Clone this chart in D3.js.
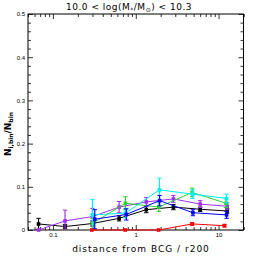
<!DOCTYPE html>
<html>
<head>
<meta charset="utf-8">
<script src="https://cdn.jsdelivr.net/npm/d3@7"></script>
<style>
body{margin:0;background:#fff;}
svg{display:block;}
.tick text{font-family:"Liberation Sans",Arial,sans-serif;font-size:6px;fill:#000;}
</style>
</head>
<body>
<div id="plot"></div>
<script>
// radial bins, values
const blackX=[0.067,0.14,0.30,0.63,1.34,2.85,6.0,12.7];
const blackY=[0.014,0.008,0.015,0.027,0.047,0.053,0.048,0.044];
const blackE=[0.013,0.005,0.006,0.006,0.007,0.006,0.005,0.005];
const purpleX=[0.067,0.14,0.30,0.63,1.34,2.85,6.0,12.7];
const purpleY=[0.0,0.021,0.031,0.053,0.065,0.072,0.060,0.055];
const purpleE=[0.0,0.025,0.019,0.013,0.010,0.008,0.008,0.008];
const blueX=[0.32,0.77,1.94,4.9,12.5];
const blueY=[0.025,0.036,0.068,0.040,0.035];
const blueE=[0.022,0.013,0.012,0.007,0.008];
const cyanX=[0.30,0.75,1.93,4.85,12.5];
const cyanY=[0.035,0.039,0.093,0.083,0.073];
const cyanE=[0.036,0.011,0.027,0.010,0.010];
const greenX=[0.30,0.75,1.90,4.8,12.3];
const greenY=[0.015,0.062,0.053,0.087,0.062];
const greenE=[0.012,0.015,0.010,0.010,0.010];
const redX=[0.295,0.746,1.89,4.79,11.8];
const redY=[0,0,0,0.014,0.010];
const redE=[0,0,0,0.003,0.003];

const yTicks=[0,0.1,0.2,0.3,0.4,0.5];
const xTicks=[0.1,1,10];

const width=258, height=258;
const margin={top:14,right:14.5,bottom:28,left:28};

let svg=d3.select("#plot").append("svg").attr("width",width).attr("height",height);
let xScale=d3.scaleLog().domain([0.05,20]).range([margin.left,width-margin.right]);
let yScale=d3.scaleLinear().domain([0,0.5]).range([height-margin.bottom,margin.top]);

let xMinor=[];
[0.01,0.1,1,10].forEach(d=>{for(let k=2;k<=9;k++){let v=d*k;if(v>=0.05&&v<=20&&xTicks.indexOf(v)<0)xMinor.push(v);}});
xMinor.push(20);
let yMinor=d3.range(0,0.5001,0.02).filter(v=>Math.abs(v*10-Math.round(v*10))>1e-6);

let fmtX=d=>d<1?d3.format(".1f")(d):d3.format("d")(d);
let fmtY=d=>d==0?"0":d3.format(".1f")(d);

// bottom + top
svg.append("g").attr("transform","translate(0,"+yScale(0)+")")
  .call(d3.axisBottom(xScale).tickValues(xTicks).tickFormat(fmtX).tickSize(-5).tickPadding(3));
svg.append("g").attr("transform","translate(0,"+yScale(0)+")")
  .call(d3.axisBottom(xScale).tickValues(xMinor).tickFormat("").tickSize(-3));
svg.append("g").attr("transform","translate(0,"+yScale(0.5)+")")
  .call(d3.axisTop(xScale).tickValues(xTicks).tickFormat("").tickSize(-5));
svg.append("g").attr("transform","translate(0,"+yScale(0.5)+")")
  .call(d3.axisTop(xScale).tickValues(xMinor).tickFormat("").tickSize(-3));
// left + right
svg.append("g").attr("transform","translate("+xScale(0.05)+",0)")
  .call(d3.axisLeft(yScale).tickValues(yTicks).tickFormat(fmtY).tickSize(-5).tickPadding(3));
svg.append("g").attr("transform","translate("+xScale(0.05)+",0)")
  .call(d3.axisLeft(yScale).tickValues(yMinor).tickFormat("").tickSize(-3));
svg.append("g").attr("transform","translate("+xScale(20)+",0)")
  .call(d3.axisRight(yScale).tickValues(yTicks).tickFormat("").tickSize(-5));
svg.append("g").attr("transform","translate("+xScale(20)+",0)")
  .call(d3.axisRight(yScale).tickValues(yMinor).tickFormat("").tickSize(-3));
svg.selectAll(".domain").remove();
svg.selectAll(".tick line").attr("stroke","#000").attr("stroke-width",0.8);

svg.append("rect").attr("x",xScale(0.05)).attr("y",yScale(0.5))
  .attr("width",xScale(20)-xScale(0.05)).attr("height",yScale(0)-yScale(0.5))
  .attr("fill","none").attr("stroke","#000").attr("stroke-width",1);

let series=[
  {xs:blackX,ys:blackY,es:blackE,color:"#000000"},
  {xs:purpleX,ys:purpleY,es:purpleE,color:"#a030f0"},
  {xs:greenX,ys:greenY,es:greenE,color:"#30d030"},
  {xs:cyanX,ys:cyanY,es:cyanE,color:"#00f0f0"},
  {xs:blueX,ys:blueY,es:blueE,color:"#0000ff"},
  {xs:redX,ys:redY,es:redE,color:"#ff0000"}
];

let line=d3.line().x(d=>xScale(d.x)).y(d=>yScale(d.y));
series.forEach(s=>{
  let pts=s.xs.map((x,i)=>({x:x,y:s.ys[i],e:s.es[i]}));
  let g=svg.append("g");
  g.append("path").datum(pts).attr("d",line).attr("fill","none").attr("stroke",s.color).attr("stroke-width",1);
  let eb=pts.filter(d=>d.e>0);
  g.selectAll("line.err").data(eb).enter().append("line").attr("class","err")
    .attr("x1",d=>xScale(d.x)).attr("x2",d=>xScale(d.x))
    .attr("y1",d=>yScale(Math.max(0,d.y-d.e))).attr("y2",d=>yScale(d.y+d.e))
    .attr("stroke",s.color).attr("stroke-width",1.2);
  g.selectAll("line.capt").data(eb).enter().append("line").attr("class","capt")
    .attr("x1",d=>xScale(d.x)-2.2).attr("x2",d=>xScale(d.x)+2.2)
    .attr("y1",d=>yScale(d.y+d.e)).attr("y2",d=>yScale(d.y+d.e))
    .attr("stroke",s.color).attr("stroke-width",1);
  g.selectAll("line.capb").data(eb.filter(d=>d.y-d.e>0)).enter().append("line").attr("class","capb")
    .attr("x1",d=>xScale(d.x)-2.2).attr("x2",d=>xScale(d.x)+2.2)
    .attr("y1",d=>yScale(d.y-d.e)).attr("y2",d=>yScale(d.y-d.e))
    .attr("stroke",s.color).attr("stroke-width",1);
  g.selectAll("rect").data(pts).enter().append("rect")
    .attr("x",d=>xScale(d.x)-1.8).attr("y",d=>yScale(d.y)-1.8)
    .attr("width",3.6).attr("height",3.6).attr("fill",s.color);
});

// titles
let title=svg.append("text").attr("x",129).attr("y",10).attr("text-anchor","middle")
  .style("font-family","DejaVu Sans, sans-serif").style("font-size","9px").style("letter-spacing","0.5px");
title.append("tspan").text("10.0 < log(M");
title.append("tspan").attr("dy",2).style("font-size","6px").text("*");
title.append("tspan").attr("dy",-2).text("/M");
title.append("tspan").attr("dy",2).style("font-size","6px").text("\u2299");
title.append("tspan").attr("dy",-2).text(") < 10.3");

svg.append("text").attr("x",141).attr("y",252).attr("text-anchor","middle")
  .style("font-family","DejaVu Sans, sans-serif").style("font-size","9px").style("letter-spacing","1px")
  .text("distance from BCG / r200");

let yl=svg.append("text").attr("transform","translate(11,134) rotate(-90)").attr("text-anchor","middle")
  .style("font-family","DejaVu Sans, sans-serif").style("font-size","9px").style("font-weight","bold");
yl.append("tspan").text("N");
yl.append("tspan").attr("dy",2).style("font-size","6px").text("i,bin");
yl.append("tspan").attr("dy",-2).text("/N");
yl.append("tspan").attr("dy",2).style("font-size","6px").text("bin");
</script>
</body>
</html>
